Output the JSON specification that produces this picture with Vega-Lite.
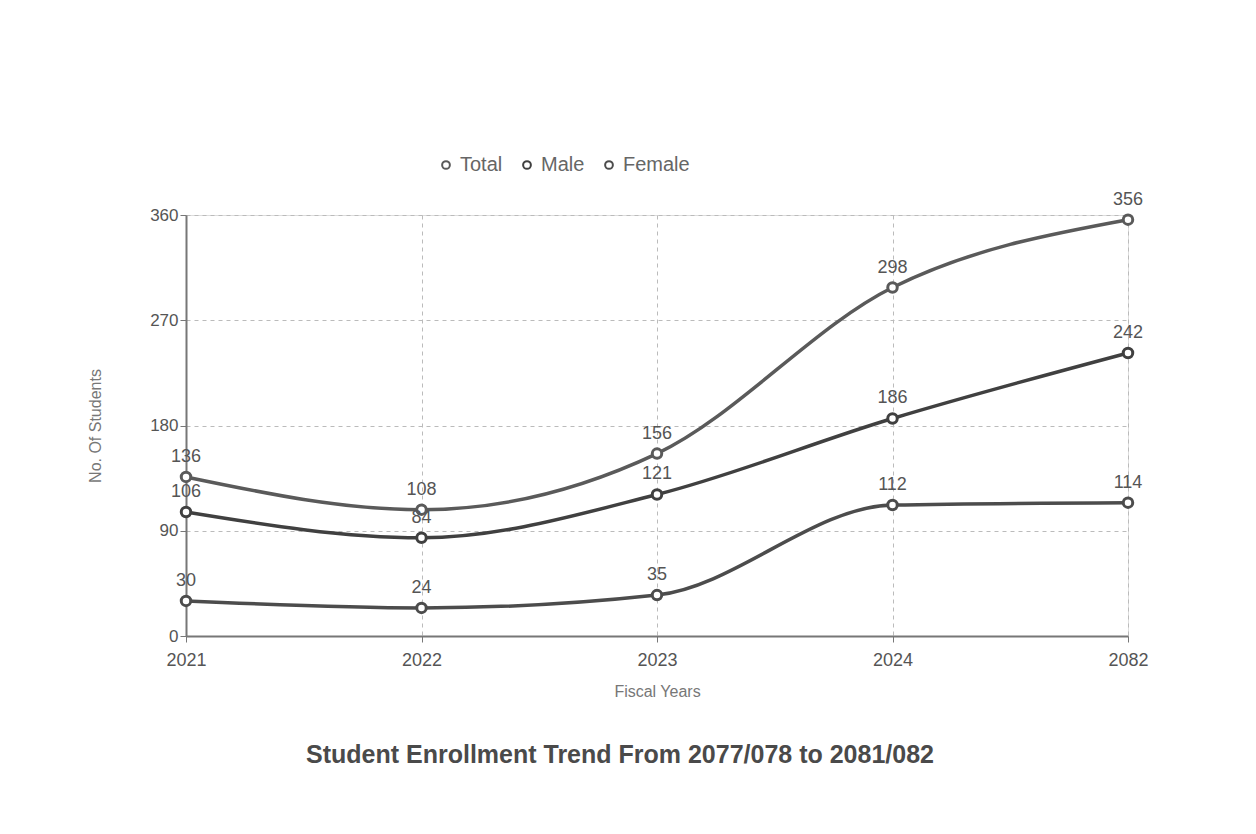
{
  "$schema": "https://vega.github.io/schema/vega-lite/v6.json",
  "width": 942,
  "height": 421,
  "autosize": {"type": "none"},
  "padding": {"left": 186, "top": 215, "right": 128, "bottom": 198},
  "background": "#ffffff",
  "title": {
    "text": "Student Enrollment Trend From 2077/078 to 2081/082",
    "orient": "bottom",
    "anchor": "middle",
    "font": "Liberation Sans",
    "fontSize": 25,
    "fontWeight": "bold",
    "color": "#4a4a4a",
    "offset": 44,
    "dx": -37
  },
  "data": {
    "values": [
      {"year": "2021", "series": "Total", "students": 136},
      {"year": "2022", "series": "Total", "students": 108},
      {"year": "2023", "series": "Total", "students": 156},
      {"year": "2024", "series": "Total", "students": 298},
      {"year": "2082", "series": "Total", "students": 356},
      {"year": "2021", "series": "Male", "students": 106},
      {"year": "2022", "series": "Male", "students": 84},
      {"year": "2023", "series": "Male", "students": 121},
      {"year": "2024", "series": "Male", "students": 186},
      {"year": "2082", "series": "Male", "students": 242},
      {"year": "2021", "series": "Female", "students": 30},
      {"year": "2022", "series": "Female", "students": 24},
      {"year": "2023", "series": "Female", "students": 35},
      {"year": "2024", "series": "Female", "students": 112},
      {"year": "2082", "series": "Female", "students": 114}
    ]
  },
  "encoding": {
    "x": {
      "field": "year",
      "type": "ordinal",
      "sort": ["2021", "2022", "2023", "2024", "2082"],
      "scale": {"type": "point", "padding": 0},
      "axis": {
        "title": "Fiscal Years",
        "labelAngle": 0,
        "labelFont": "Liberation Sans",
        "labelFontSize": 18,
        "labelColor": "#555555",
        "labelPadding": 9,
        "titleFont": "Liberation Sans",
        "titleFontSize": 16,
        "titleFontWeight": "normal",
        "titleColor": "#777777",
        "titlePadding": 14,
        "domainColor": "#777777",
        "domainWidth": 2,
        "tickColor": "#777777",
        "tickSize": 6,
        "grid": true,
        "gridDash": [4, 4],
        "gridColor": "#bbbbbb"
      }
    },
    "y": {
      "field": "students",
      "type": "quantitative",
      "scale": {"domain": [0, 360], "nice": false},
      "axis": {
        "title": "No. Of Students",
        "values": [0, 90, 180, 270, 360],
        "labelFont": "Liberation Sans",
        "labelFontSize": 17,
        "labelColor": "#555555",
        "titleFont": "Liberation Sans",
        "titleFontSize": 16,
        "titleFontWeight": "normal",
        "titleColor": "#777777",
        "titlePadding": 46,
        "domainColor": "#777777",
        "domainWidth": 2,
        "tickColor": "#777777",
        "tickSize": 6,
        "grid": true,
        "gridDash": [4, 4],
        "gridColor": "#bbbbbb"
      }
    },
    "color": {
      "field": "series",
      "type": "nominal",
      "scale": {
        "domain": ["Total", "Male", "Female"],
        "range": ["#5a5a5a", "#404040", "#4c4c4c"]
      },
      "legend": {
        "title": null,
        "orient": "none",
        "legendX": 250,
        "legendY": -60,
        "direction": "horizontal",
        "symbolType": "circle",
        "symbolFillColor": "#ffffff",
        "symbolStrokeWidth": 2,
        "symbolSize": 60,
        "labelFont": "Liberation Sans",
        "labelFontSize": 20,
        "labelColor": "#666666",
        "columnPadding": 14
      }
    }
  },
  "layer": [
    {
      "mark": {"type": "line", "interpolate": "monotone", "strokeWidth": 3.5}
    },
    {
      "mark": {"type": "point", "filled": false, "fill": "#ffffff", "fillOpacity": 1, "strokeWidth": 3, "size": 90, "opacity": 1}
    },
    {
      "mark": {"type": "text", "dy": -20, "font": "Liberation Sans", "fontSize": 18, "color": "#555555"},
      "encoding": {
        "text": {"field": "students", "type": "quantitative"},
        "color": {"value": "#555555"}
      }
    }
  ]
}
